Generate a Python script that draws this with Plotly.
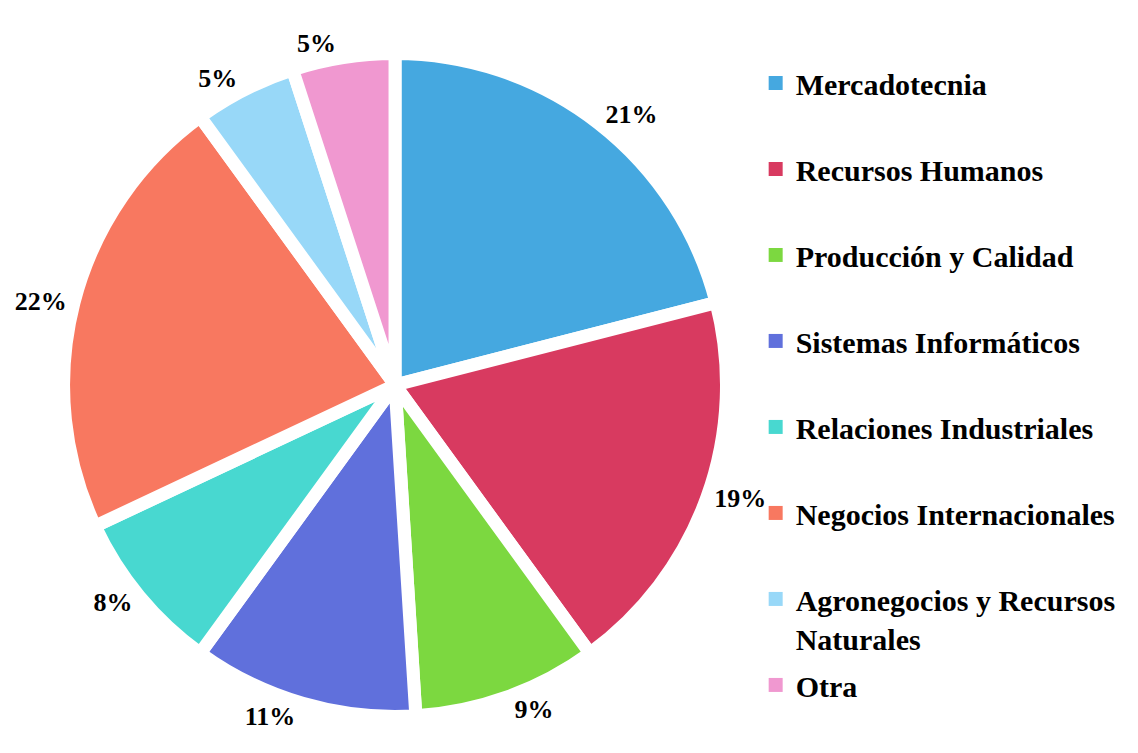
import plotly.graph_objects as go

areas = [
    "Mercadotecnia",
    "Recursos Humanos",
    "Producción y Calidad",
    "Sistemas Informáticos",
    "Relaciones Industriales",
    "Negocios Internacionales",
    "Agronegocios y Recursos<br>Naturales",
    "Otra",
]
porcentajes = [21, 19, 9, 11, 8, 22, 5, 5]
colores = ["#45A8E0", "#D83A60", "#7CD840", "#6070DC",
           "#48D8D0", "#F87860", "#98D8F8", "#F098D0"]

FONT = "Liberation Serif"

fig = go.Figure()

fig.add_trace(go.Pie(
    labels=areas,
    values=porcentajes,
    sort=False,
    direction="clockwise",
    rotation=0,
    texttemplate="%{value}%",
    textposition="outside",
    textfont=dict(family=FONT, size=26, color="black", weight="bold"),
    marker=dict(colors=colores, line=dict(color="white", width=13)),
    domain=dict(x=[0.0488, 0.6314], y=[0.0591, 0.9395]),
    automargin=False,
    showlegend=False,
    hoverinfo="label+percent",
))

# legend entries as dummy traces so the gap between items can be set
for i, (nombre, color) in enumerate(zip(areas, colores)):
    texto = nombre if "<br>" in nombre else nombre + "<br> "
    fig.add_trace(go.Scatter(
        x=[None], y=[None],
        mode="markers",
        marker=dict(symbol="square", size=14, color=color),
        name=texto,
        legendgroup=f"g{i}",
        showlegend=True,
    ))

fig.update_layout(
    width=1138,
    height=753,
    margin=dict(l=0, r=0, t=0, b=0, autoexpand=False),
    paper_bgcolor="white",
    plot_bgcolor="white",
    xaxis=dict(visible=False),
    yaxis=dict(visible=False),
    legend=dict(
        x=0.657, y=0.935,
        xanchor="left", yanchor="top",
        font=dict(family=FONT, size=30, color="black", weight="bold"),
        valign="top",
        tracegroupgap=5,
        itemwidth=30,
        bgcolor="rgba(0,0,0,0)",
    ),
)

fig.write_html("out.html")
